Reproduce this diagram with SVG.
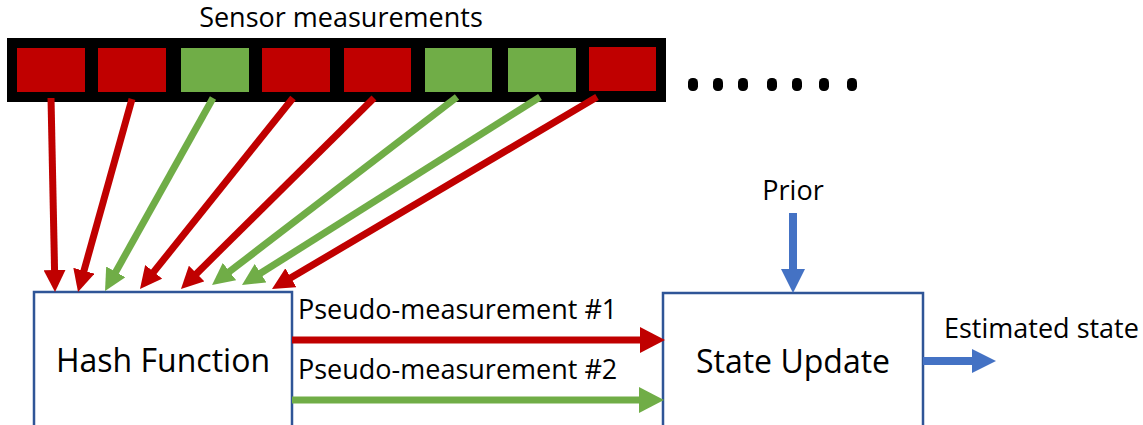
<svg xmlns="http://www.w3.org/2000/svg" width="1143" height="425" viewBox="0 0 1143 425">
<defs>
<style>
.t{font-family:"Open Sans","Noto Sans","Liberation Sans",sans-serif;fill:#000}
.box{fill:#fff;stroke:#2F5597;stroke-width:2.5}
.r{fill:#C00000}
.g{fill:#70AD47}
.lr{stroke:#C00000;stroke-width:7;fill:none}
.lg{stroke:#70AD47;stroke-width:7;fill:none}
.lb{stroke:#4472C4;stroke-width:8;fill:none}
</style>
<marker id="hR" markerUnits="userSpaceOnUse" markerWidth="22" markerHeight="22" refX="2" refY="11" orient="auto"><path d="M0,0 L22,11 L0,22 z" fill="#C00000"/></marker>
<marker id="hG" markerUnits="userSpaceOnUse" markerWidth="22" markerHeight="22" refX="2" refY="11" orient="auto"><path d="M0,0 L22,11 L0,22 z" fill="#70AD47"/></marker>
<marker id="pR" markerUnits="userSpaceOnUse" markerWidth="25" markerHeight="26" refX="2" refY="13" orient="auto"><path d="M0,0 L25,13 L0,26 z" fill="#C00000"/></marker>
<marker id="pG" markerUnits="userSpaceOnUse" markerWidth="25" markerHeight="26" refX="2" refY="13" orient="auto"><path d="M0,0 L25,13 L0,26 z" fill="#70AD47"/></marker>
<marker id="hB" markerUnits="userSpaceOnUse" markerWidth="24" markerHeight="24" refX="2" refY="12" orient="auto"><path d="M0,0 L24,12 L0,24 z" fill="#4472C4"/></marker>
</defs>
<rect width="1143" height="425" fill="#fff"/>

<g id="sensors">
<text class="t" x="341" y="27" font-size="27" text-anchor="middle">Sensor measurements</text>
<rect x="7" y="38" width="659" height="64" fill="#000"/>
<rect class="r" x="17" y="48" width="68" height="44"/>
<rect class="r" x="98" y="48" width="68" height="44"/>
<rect class="g" x="181" y="48" width="68" height="44"/>
<rect class="r" x="262" y="48" width="68" height="44"/>
<rect class="r" x="344" y="48" width="67" height="44"/>
<rect class="g" x="425" y="48" width="67" height="44"/>
<rect class="g" x="508" y="48" width="68" height="44"/>
<rect class="r" x="589" y="47" width="67" height="44"/>
<g fill="#000">
<rect x="688" y="78" width="10" height="13" rx="4.5"/>
<rect x="713" y="78" width="10" height="13" rx="4.5"/>
<rect x="738" y="78" width="10" height="13" rx="4.5"/>
<rect x="767" y="78" width="10" height="13" rx="4.5"/>
<rect x="792" y="78" width="10" height="13" rx="4.5"/>
<rect x="819" y="78" width="10" height="13" rx="4.5"/>
<rect x="847" y="78" width="10" height="13" rx="4.5"/>
</g>
</g>

<g id="hash">
<rect class="box" x="34" y="292" width="258" height="200"/>
<text class="t" x="163" y="372" font-size="32" text-anchor="middle">Hash Function</text>
</g>

<g id="update">
<rect class="box" x="663" y="293" width="260" height="200"/>
<text class="t" x="793" y="373" font-size="32" text-anchor="middle">State Update</text>
</g>

<g id="labels">
<text class="t" x="793" y="200" font-size="27" text-anchor="middle">Prior</text>
<text class="t" x="944" y="338" font-size="27">Estimated state</text>
<text class="t" x="298" y="319" font-size="27">Pseudo-measurement #1</text>
<text class="t" x="298" y="379" font-size="27">Pseudo-measurement #2</text>
</g>

<g id="connectors">
<line class="lr" x1="51" y1="98" x2="54.6" y2="272" marker-end="url(#hR)"/>
<line class="lr" x1="132" y1="99" x2="83.4" y2="272.7" marker-end="url(#hR)"/>
<line class="lg" x1="213" y1="98" x2="114.8" y2="273.6" marker-end="url(#hG)"/>
<line class="lr" x1="293" y1="98" x2="152.5" y2="273.4" marker-end="url(#hR)"/>
<line class="lr" x1="374" y1="98" x2="195.2" y2="274.9" marker-end="url(#hR)"/>
<line class="lg" x1="457" y1="97" x2="227.9" y2="272.8" marker-end="url(#hG)"/>
<line class="lg" x1="540" y1="97" x2="258.9" y2="274.3" marker-end="url(#hG)"/>
<line class="lr" x1="597" y1="97" x2="289.2" y2="278.8" marker-end="url(#hR)"/>
<line class="lr" x1="292" y1="340" x2="642" y2="340" marker-end="url(#pR)"/>
<line class="lg" x1="292" y1="400" x2="641" y2="400" marker-end="url(#pG)"/>
<line class="lb" x1="793" y1="213" x2="793" y2="271" marker-end="url(#hB)"/>
<line class="lb" x1="923" y1="361" x2="974" y2="361" marker-end="url(#hB)"/>
</g>
</svg>
